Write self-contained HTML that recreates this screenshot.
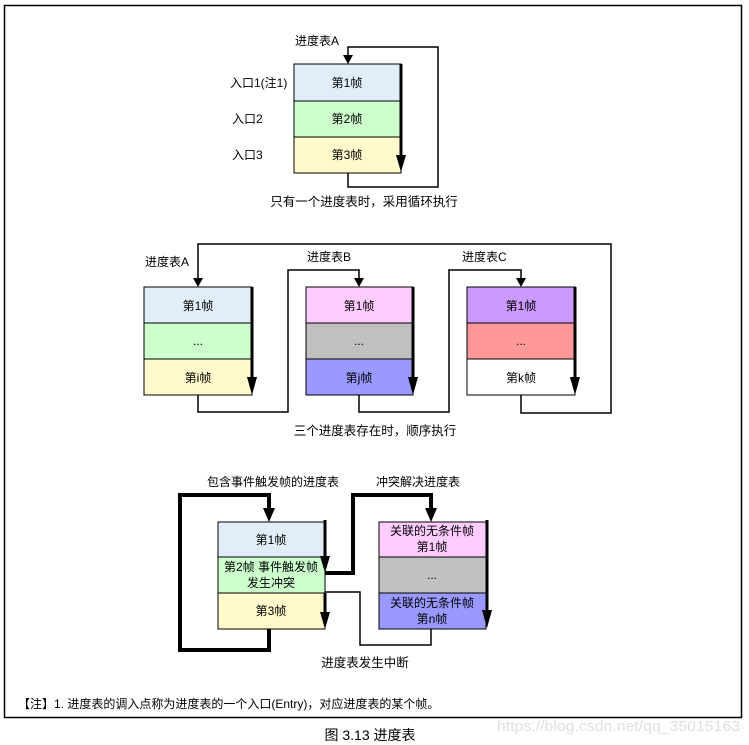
<!DOCTYPE html>
<html><head><meta charset="utf-8"><style>
html,body{margin:0;padding:0;background:#fff;}
svg{display:block;}
text{font-family:"Liberation Sans","Noto Sans CJK SC",sans-serif;font-size:12px;fill:#000;}
</style></head><body>
<svg width="749" height="745" viewBox="0 0 749 745" xmlns="http://www.w3.org/2000/svg">
<rect x="4.5" y="5.5" width="737" height="712" fill="none" stroke="#000" stroke-width="1.5"/>

<!-- Diagram 1 -->
<rect x="294" y="64" width="107" height="37" fill="#e1eefa" stroke="#000"/>
<rect x="294" y="101" width="107" height="36" fill="#ccffcc" stroke="#000"/>
<rect x="294" y="137" width="107" height="36" fill="#fff9cc" stroke="#000"/>
<text x="347" y="87" text-anchor="middle">第1帧</text>
<text x="347" y="123" text-anchor="middle">第2帧</text>
<text x="347" y="159" text-anchor="middle">第3帧</text>
<text x="230" y="87">入口1(注1)</text>
<text x="232" y="123">入口2</text>
<text x="232" y="159">入口3</text>
<text x="295" y="45">进度表A</text>
<line x1="401" y1="64" x2="401" y2="158" stroke="#000" stroke-width="3"/>
<polygon points="396,155 406,155 401,172" fill="#000"/>
<polyline points="348,173 348,187 438,187 438,47 348,47 348,56" fill="none" stroke="#000" stroke-width="1.5"/>
<polygon points="343,55 353,55 348,64" fill="#000"/>
<text x="364" y="206" text-anchor="middle" style="font-size:12.5px">只有一个进度表时，采用循环执行</text>

<!-- Diagram 2 -->
<rect x="144" y="287" width="108" height="36" fill="#e1eefa" stroke="#000"/>
<rect x="144" y="323" width="108" height="36" fill="#ccffcc" stroke="#000"/>
<rect x="144" y="359" width="108" height="36" fill="#fff9cc" stroke="#000"/>
<rect x="306" y="287" width="107" height="36" fill="#ffccff" stroke="#000"/>
<rect x="306" y="323" width="107" height="36" fill="#c0c0c0" stroke="#000"/>
<rect x="306" y="359" width="107" height="36" fill="#9999ff" stroke="#000"/>
<rect x="467" y="287" width="108" height="36" fill="#cc99ff" stroke="#000"/>
<rect x="467" y="323" width="108" height="36" fill="#ff9999" stroke="#000"/>
<rect x="467" y="359" width="108" height="36" fill="#ffffff" stroke="#000"/>
<text x="198" y="310" text-anchor="middle">第1帧</text>
<text x="198" y="345" text-anchor="middle">...</text>
<text x="198" y="382" text-anchor="middle">第i帧</text>
<text x="359" y="310" text-anchor="middle">第1帧</text>
<text x="359" y="345" text-anchor="middle">...</text>
<text x="359" y="382" text-anchor="middle">第j帧</text>
<text x="521" y="310" text-anchor="middle">第1帧</text>
<text x="521" y="345" text-anchor="middle">...</text>
<text x="521" y="382" text-anchor="middle">第k帧</text>
<text x="145" y="266">进度表A</text>
<text x="307" y="261">进度表B</text>
<text x="462" y="261">进度表C</text>
<g stroke="#000" stroke-width="3">
<line x1="252" y1="287" x2="252" y2="380"/>
<line x1="413" y1="287" x2="413" y2="380"/>
<line x1="575" y1="287" x2="575" y2="380"/>
</g>
<polygon points="247,377 257,377 252,395" fill="#000"/>
<polygon points="408,377 418,377 413,395" fill="#000"/>
<polygon points="570,377 580,377 575,395" fill="#000"/>
<g fill="none" stroke="#000" stroke-width="1.5">
<polyline points="198,395 198,412 288,412 288,270 359,270 359,279"/>
<polyline points="359,395 359,412 449,412 449,270 521,270 521,279"/>
<polyline points="521,395 521,413 611,413 611,244 198,244 198,279"/>
</g>
<polygon points="193,278 203,278 198,287" fill="#000"/>
<polygon points="354,278 364,278 359,287" fill="#000"/>
<polygon points="516,278 526,278 521,287" fill="#000"/>
<text x="375" y="435" text-anchor="middle" style="font-size:12.5px">三个进度表存在时，顺序执行</text>

<!-- Diagram 3 -->
<rect x="218" y="522" width="107" height="35" fill="#e1eefa" stroke="#000"/>
<rect x="218" y="557" width="107" height="36" fill="#ccffcc" stroke="#000"/>
<rect x="218" y="593" width="107" height="36" fill="#fff9cc" stroke="#000"/>
<rect x="379" y="522" width="107" height="35" fill="#ffccff" stroke="#000"/>
<rect x="379" y="557" width="107" height="36" fill="#c0c0c0" stroke="#000"/>
<rect x="379" y="593" width="107" height="36" fill="#9999ff" stroke="#000"/>
<text x="271" y="544" text-anchor="middle">第1帧</text>
<text x="271" y="571" text-anchor="middle">第2帧 事件触发帧</text>
<text x="271" y="587" text-anchor="middle">发生冲突</text>
<text x="271" y="615" text-anchor="middle">第3帧</text>
<text x="432" y="535" text-anchor="middle">关联的无条件帧</text>
<text x="432" y="551" text-anchor="middle">第1帧</text>
<text x="432" y="579" text-anchor="middle">...</text>
<text x="432" y="607" text-anchor="middle">关联的无条件帧</text>
<text x="432" y="623" text-anchor="middle">第n帧</text>
<text x="207" y="486">包含事件触发帧的进度表</text>
<text x="376" y="486">冲突解决进度表</text>
<text x="365" y="667" text-anchor="middle" style="font-size:12.5px">进度表发生中断</text>
<g stroke="#000" stroke-width="3">
<line x1="325" y1="520" x2="325" y2="560"/>
<line x1="325" y1="593" x2="325" y2="615"/>
<line x1="487" y1="520" x2="487" y2="612"/>
</g>
<polygon points="320,556 330,556 325,573" fill="#000"/>
<polygon points="320,612 330,612 325,629" fill="#000"/>
<polygon points="482,610 492,610 487,628" fill="#000"/>
<g fill="none" stroke="#000" stroke-width="4">
<polyline points="269,629 269,650 180,650 180,495 269,495 269,510"/>
<polyline points="325,573 353,573 353,495 431,495 431,510"/>
</g>
<polygon points="263,508 275,508 269,522" fill="#000"/>
<polygon points="425,508 437,508 431,522" fill="#000"/>
<polyline points="325,592 360,592 360,645 431,645 431,629" fill="none" stroke="#000" stroke-width="1.5"/>

<text x="18" y="708" style="font-size:12px">【注】1. 进度表的调入点称为进度表的一个入口(Entry)，对应进度表的某个帧。</text>
<text x="497" y="731" textLength="243" lengthAdjust="spacingAndGlyphs" style="font-size:15px;fill:#e0e0e0">https://blog.csdn.net/qq_35015163</text>
<text x="370" y="740" text-anchor="middle" style="font-size:14px">图 3.13 进度表</text>
</svg>
</body></html>
